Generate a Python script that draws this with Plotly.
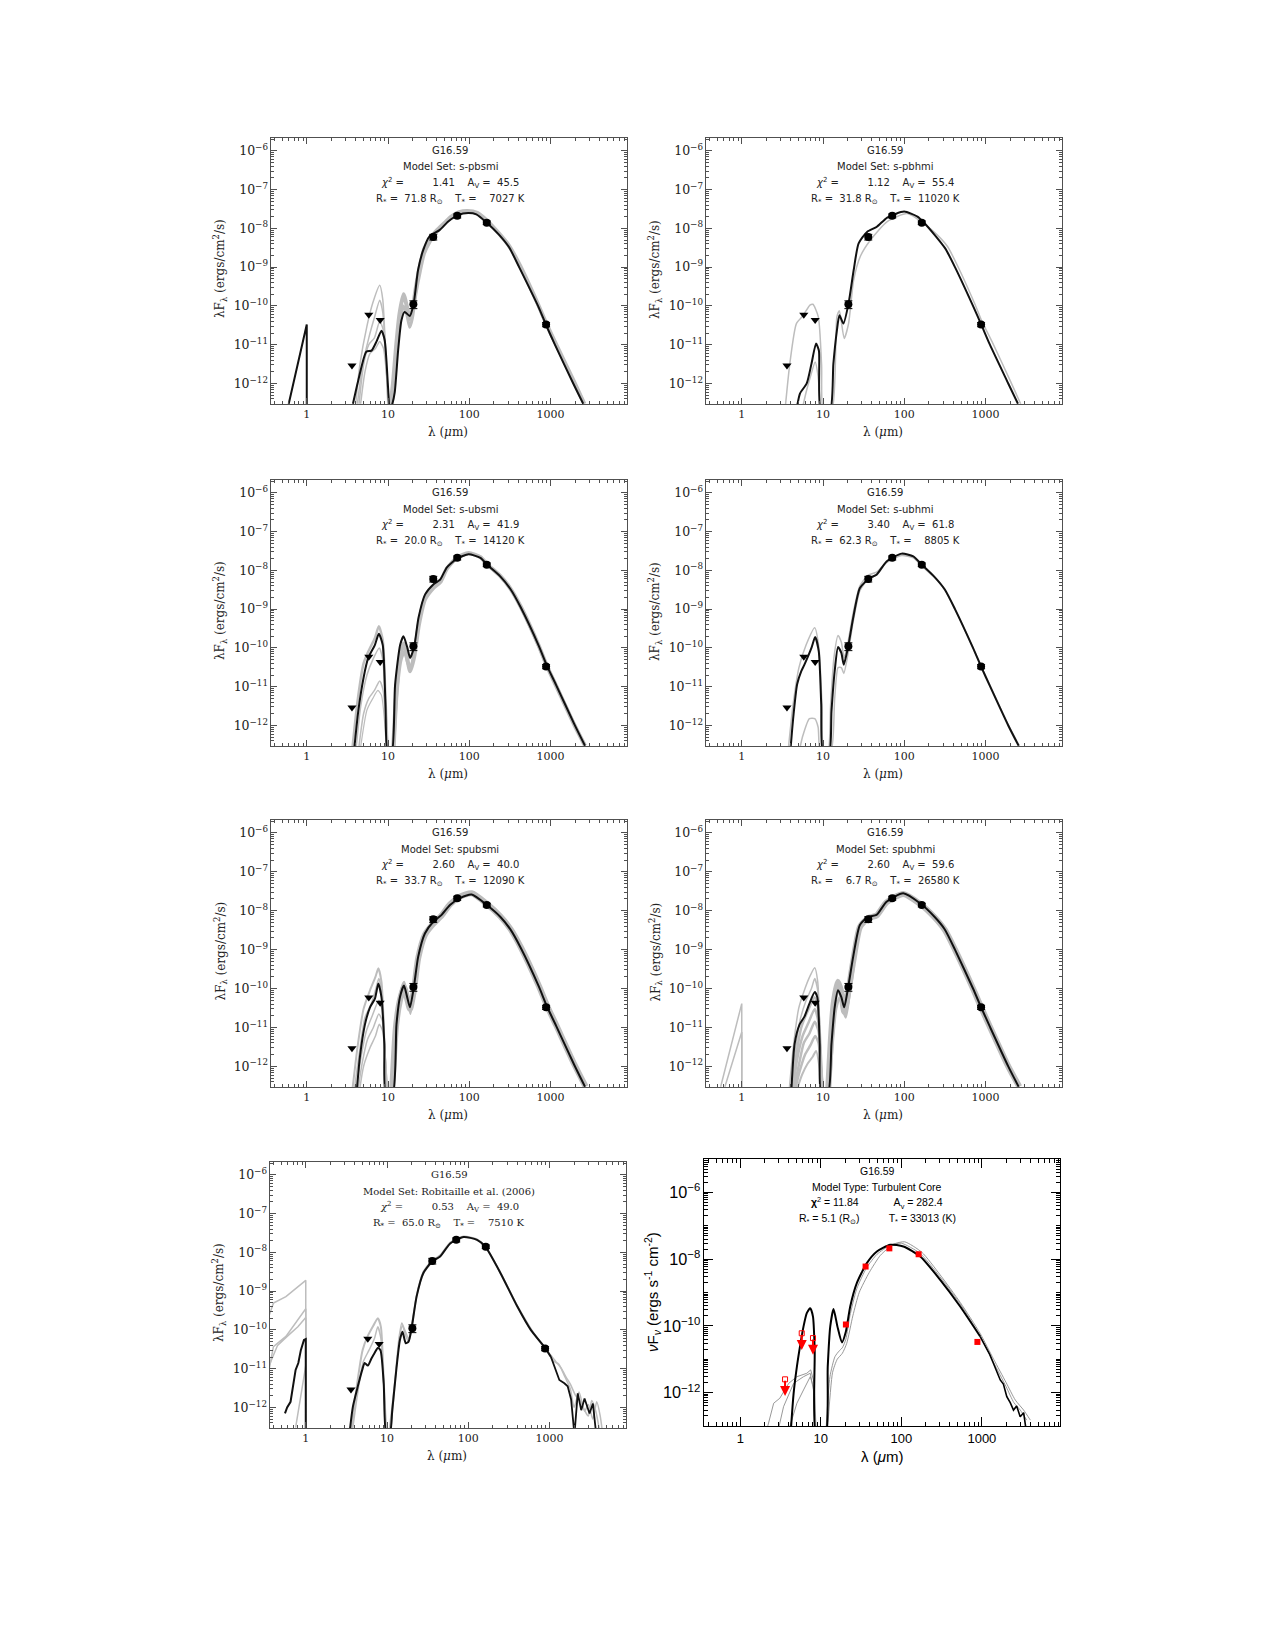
import plotly.graph_objects as go
import numpy as np

W, H = 1275, 1650
NB = "\u00a0"

# ---------------- observed photometry (shared) ----------------
wl_det = [20.5, 36.0, 71.0, 164.0, 880.0]
f_det = [1.1e-10, 6.0e-9, 2.1e-8, 1.4e-8, 3.3e-11]
e_det = [0.25e-10, 1.0e-9, 0.25e-8, 0.15e-8, 0.4e-11]
wl_lim = [3.6, 5.8, 8.0]
f_lim = [2.9e-12, 5.9e-11, 4.3e-11]
f_lim8 = [2.5e-12, 6.0e-11, 4.3e-11]

# ---------------- panel texts ----------------
model_sets = ["s-pbsmi", "s-pbhmi", "s-ubsmi", "s-ubhmi", "spubsmi", "spubhmi",
              "Robitaille et al. (2006)"]
chi2_vals = ["1.41", "1.12", "2.31", "3.40", "2.60", "2.60", "0.53"]
av_vals = ["45.5", "55.4", "41.9", "61.8", "40.0", "59.6", "49.0"]
rstar_vals = ["71.8", "31.8", "20.0", "62.3", "33.7", "6.7", "65.0"]
tstar_vals = ["7027", "11020", "14120", "8805", "12090", "26580", "7510"]

# ---------------- panel 1 : s-pbsmi ----------------
p1_nir_wl = [0.6, 1.0, 1.0]
p1_nir_f = [3e-13, 3.3e-11, 1e-13]
p1_wl = [3.7, 4.3, 5.4, 6.25, 7.2, 8.3, 9.1, 10.0, 10.5, 11.3, 12.1, 13.3, 14.6, 16.0, 18.5,
         20.6, 23.4, 27, 32.5, 43, 55, 72.5, 97, 122, 164, 230, 310, 410, 700, 876, 1130, 1900, 2520]
p1_f = [3e-13, 1.2e-12, 6.6e-12, 7e-12, 1.2e-11, 2.3e-11, 1.3e-11, 8e-13, 2e-13, 3e-13, 6e-13,
        7e-12, 4.2e-11, 7e-11, 5.5e-11, 1.1e-10, 8.4e-10, 2.7e-9, 6.3e-9, 9e-9, 1.5e-8, 2.2e-8,
        2.5e-8, 2.3e-8, 1.4e-8, 7e-9, 3.2e-9, 1e-9, 1e-10, 3.3e-11, 1e-11, 1e-12, 3e-13]
p1_ga_wl = [4.0, 4.5, 5.5, 6.5, 7.9, 8.6, 9.3, 10.0]
p1_ga_f = [3e-13, 3e-12, 3e-11, 1.2e-10, 3.4e-10, 1.5e-10, 8e-12, 2e-13]
p1_gb_wl = [4.2, 4.8, 5.8, 6.8, 7.9, 8.6, 9.4, 10.1]
p1_gb_f = [3e-13, 2.5e-12, 1.5e-11, 5e-11, 1.4e-10, 7e-11, 5e-12, 2e-13]
p1_gc_wl = [4.4, 5.0, 5.8, 6.8, 7.9, 8.7, 9.6, 10.3]
p1_gc_f = [3e-13, 3e-12, 1e-11, 1.5e-11, 4e-11, 2.5e-11, 2e-12, 2e-13]
p1_gd_wl = [4.6, 5.2, 6.0, 7.0, 7.9, 8.8, 9.8, 10.5]
p1_gd_f = [3e-13, 2e-12, 6e-12, 8e-12, 1.2e-11, 8e-12, 1e-12, 2e-13]
p1_ge_wl = [10.5, 11.5, 12.5, 13.8, 15.5, 17, 18.5, 20, 22, 25, 28, 33, 40, 50, 60, 75, 95,
            125, 164, 230, 310, 420, 700, 880, 1150, 1950, 2600]
p1_ge_f = [2e-13, 1e-12, 8e-12, 6e-11, 2e-10, 1e-10, 4.5e-11, 8e-11, 3e-10, 1.2e-9, 3e-9, 5.5e-9,
           9e-9, 1.4e-8, 2e-8, 2.6e-8, 2.8e-8, 2.5e-8, 1.6e-8, 7.5e-9, 3.5e-9, 1.1e-9, 1.1e-10,
           3.6e-11, 1.1e-11, 1.1e-12, 3e-13]
p1_gf_wl = [11, 12, 13.5, 15.5, 17, 18.5, 20, 22, 25, 28, 33, 40, 50, 60, 75, 95, 125, 164,
            230, 310, 420, 700, 880, 1150, 1950, 2600]
p1_gf_f = [2e-13, 2e-12, 2.5e-11, 1e-10, 6e-11, 2.8e-11, 5e-11, 2e-10, 8e-10, 2.2e-9, 4.5e-9,
           8e-9, 1.3e-8, 1.9e-8, 2.5e-8, 2.7e-8, 2.4e-8, 1.5e-8, 7.2e-9, 3.3e-9, 1.05e-9,
           1.05e-10, 3.4e-11, 1.05e-11, 1.05e-12, 3e-13]

# ---------------- panel 2 : s-pbhmi ----------------
p2_wl = [4.7, 5.2, 6.3, 7.2, 8.2, 8.9, 9.4, 12.2, 13.4, 14.8, 15.9, 17.8, 20.6, 23.8, 27.4,
         34.8, 46, 61.6, 99.5, 145, 175, 240, 320, 420, 700, 884, 1130, 1900, 2500]
p2_f = [2e-13, 5.5e-13, 1e-12, 3.2e-12, 1.07e-11, 7e-12, 2e-13, 2e-13, 3.2e-12, 2.3e-11, 5.7e-11,
        3.5e-11, 1.15e-10, 8.3e-10, 4.1e-9, 8.1e-9, 1.1e-8, 1.9e-8, 2.7e-8, 2e-8, 1.4e-8, 6.5e-9,
        3e-9, 1e-9, 1e-10, 3.3e-11, 1e-11, 1e-12, 3e-13]
p2_ga_wl = [3.4, 3.9, 4.7, 5.7, 6.9, 7.5, 8.75, 9.6, 10.1, 12.8, 14.8, 15.9, 18.2, 20.6, 23.8,
            28.8, 38.3, 61.6, 109, 175, 250, 340, 450, 740, 900, 1200, 2000, 2700]
p2_ga_f = [2e-13, 3.2e-12, 3.5e-11, 5.7e-11, 1.05e-10, 1.1e-10, 5.2e-11, 3e-12, 2e-13, 2e-13,
           5.2e-11, 7.5e-11, 1.45e-11, 3.5e-11, 4.6e-10, 1.9e-9, 5e-9, 1.5e-8, 2.4e-8, 1.3e-8,
           7e-9, 3.4e-9, 1.1e-9, 1.1e-10, 4e-11, 1.2e-11, 1.2e-12, 3e-13]
p2_gb_wl = [5.5, 6.2, 7.0, 8.0, 8.7, 9.3]
p2_gb_f = [2e-13, 6e-13, 1.5e-12, 3.6e-12, 1.5e-12, 2e-13]

# ---------------- panel 3 : s-ubsmi ----------------
p3_wl = [3.8, 4.3, 5.0, 5.7, 6.9, 7.7, 8.6, 9.3, 9.9, 11.1, 12.2, 14.1, 15.5, 17.3, 18.7, 21,
         23.7, 28.6, 36.3, 43.9, 53, 70.4, 98, 137, 165, 240, 320, 430, 720, 900, 1170, 1950, 2650]
p3_f = [2e-13, 2.3e-12, 1.7e-11, 5.5e-11, 1.2e-10, 2.3e-10, 1.2e-10, 3.5e-12, 2e-13, 2e-13,
        1.1e-11, 1.2e-10, 2e-10, 1e-10, 5.5e-11, 1.1e-10, 6e-10, 2.4e-9, 4.4e-9, 5.8e-9, 1.2e-8,
        2e-8, 2.6e-8, 2.1e-8, 1.4e-8, 7e-9, 3.3e-9, 1.1e-9, 1.1e-10, 3.5e-11, 1.1e-11, 1.1e-12, 3e-13]
p3_ga_wl = [3.6, 4.2, 5.0, 5.7, 6.9, 7.7, 8.6, 9.3, 9.9]
p3_ga_f = [2e-13, 4e-12, 4e-11, 8e-11, 1.8e-10, 3.6e-10, 1.6e-10, 5e-12, 2e-13]
p3_gb_wl = [4.0, 4.6, 5.5, 6.5, 7.8, 8.6, 9.4, 10.0]
p3_gb_f = [2e-13, 3e-12, 2e-11, 5e-11, 1e-10, 5e-11, 3e-12, 2e-13]
p3_gc_wl = [4.3, 5.0, 5.8, 6.8, 7.9, 8.7, 9.5, 10.1]
p3_gc_f = [2e-13, 2e-12, 5e-12, 8e-12, 1.4e-11, 8e-12, 1e-12, 2e-13]
p3_gd_wl = [4.5, 5.5, 6.5, 7.5, 8.3, 9.0, 9.6]
p3_gd_f = [2e-13, 2.5e-12, 5e-12, 8e-12, 6e-12, 1.5e-12, 2e-13]
p3_ge_wl = [11.5, 12.5, 14, 15.5, 17.3, 18.7, 21, 24, 28.6, 36, 44, 53, 70, 98, 137, 165, 240,
            320, 430, 720, 900, 1170, 1950, 2650]
p3_ge_f = [2e-13, 5e-12, 6e-11, 1.3e-10, 5e-11, 2.5e-11, 6e-11, 4e-10, 1.8e-9, 3.5e-9, 5e-9,
           1.1e-8, 2.1e-8, 2.8e-8, 2.2e-8, 1.45e-8, 7.2e-9, 3.4e-9, 1.15e-9, 1.1e-10, 3.4e-11,
           1.05e-11, 1.05e-12, 3e-13]
p3_gf_wl = [11.8, 13, 14.5, 16, 17.5, 19, 21, 24, 28.6, 36, 44, 53, 70, 98, 137, 165, 240, 320,
            430, 720, 900, 1170, 1950, 2650]
p3_gf_f = [2e-13, 8e-12, 5e-11, 8e-11, 4e-11, 3e-11, 8e-11, 5e-10, 2.2e-9, 4e-9, 5.5e-9, 1.15e-8,
           2e-8, 2.7e-8, 2.2e-8, 1.4e-8, 7e-9, 3.3e-9, 1.1e-9, 1.05e-10, 3.4e-11, 1.1e-11,
           1.1e-12, 3e-13]

# ---------------- panel 4 : s-ubhmi ----------------
p4_wl = [3.95, 4.26, 4.8, 5.4, 5.9, 7.2, 8.0, 8.85, 9.5, 10.0, 11.9, 12.7, 13.9, 15.3, 16.8, 18,
         20.4, 23.5, 28.4, 37.7, 45.5, 60.5, 92.7, 129, 164, 235, 315, 420, 700, 880, 1140, 1900, 2550]
p4_f = [2e-13, 1.3e-12, 1.15e-11, 2.5e-11, 3.7e-11, 1e-10, 1.9e-10, 8.3e-11, 3.5e-12, 2e-13,
        2e-13, 2.3e-12, 2.5e-11, 1.05e-10, 7.4e-11, 3.7e-11, 1.1e-10, 6e-10, 3.5e-9, 6.4e-9,
        7.7e-9, 1.7e-8, 2.7e-8, 2.3e-8, 1.4e-8, 6.8e-9, 3.2e-9, 1e-9, 1e-10, 3.3e-11, 1e-11,
        1e-12, 3e-13]
p4_ga_wl = [3.7, 4.26, 5.05, 6.2, 7.9, 8.9, 9.7, 10.2, 11.5, 12.4, 13.6, 15.3, 16.8, 18.2, 20.4,
            23.5, 28.4, 36, 45.5, 60.5, 92.7, 129, 164, 235, 315, 420, 700, 880, 1140, 1900, 2600]
p4_ga_f = [2e-13, 3.2e-12, 3.1e-11, 1.2e-10, 3.3e-10, 1e-10, 3.5e-12, 2e-13, 2e-13, 3.5e-12,
           5.5e-11, 2.1e-10, 1.4e-10, 5.5e-11, 1.5e-10, 8e-10, 4e-9, 7.5e-9, 9e-9, 1.6e-8, 2.4e-8,
           2.1e-8, 1.3e-8, 6.5e-9, 3.1e-9, 1e-9, 1e-10, 3.4e-11, 1.05e-11, 1.05e-12, 3e-13]
p4_gb_wl = [5.05, 5.65, 6.8, 7.9, 8.7, 9.3, 12.4, 13.9, 15.3, 16.8, 18, 20.4, 23.5, 28.4, 36,
            45.5, 60.5, 92.7, 129, 164]
p4_gb_f = [2e-13, 5.5e-13, 1.5e-12, 1.5e-12, 9e-13, 2e-13, 2e-13, 4.9e-12, 3.1e-11, 3.1e-11,
           2.2e-11, 7.4e-11, 4.8e-10, 3e-9, 6e-9, 7.5e-9, 1.6e-8, 2.6e-8, 2.2e-8, 1.35e-8]

# ---------------- panel 5 : spubsmi ----------------
p5_wl = [4.1, 4.5, 5.2, 6.0, 6.9, 7.6, 8.3, 9.0, 9.4, 11.4, 12.7, 14, 15.7, 17.2, 18.6, 20.8,
         23.5, 28.4, 36, 45.6, 57.8, 76.8, 107, 164, 240, 320, 430, 720, 900, 1170, 1950, 2650]
p5_f = [2e-13, 1.7e-12, 1.2e-11, 3.3e-11, 5.5e-11, 1.35e-10, 6e-11, 3.8e-12, 2e-13, 2e-13,
        1.2e-11, 6e-11, 1.2e-10, 6e-11, 3.3e-11, 1.1e-10, 6.6e-10, 2.6e-9, 5.2e-9, 7.8e-9,
        1.4e-8, 2.1e-8, 2.6e-8, 1.4e-8, 7e-9, 3.3e-9, 1.1e-9, 1.1e-10, 3.5e-11, 1.1e-11, 1.1e-12, 3e-13]
p5_ga_wl = [3.6, 4.2, 5.0, 6.0, 7.0, 7.6, 8.3, 9.0, 9.5]
p5_ga_f = [2e-13, 3e-12, 3e-11, 9e-11, 2e-10, 3.3e-10, 1.5e-10, 5e-12, 2e-13]
p5_gb_wl = [3.8, 4.4, 5.2, 6.2, 7.0, 7.7, 8.4, 9.1, 9.6]
p5_gb_f = [2e-13, 2e-12, 1.8e-11, 4e-11, 9e-11, 1.8e-10, 8e-11, 3e-12, 2e-13]
p5_gc_wl = [4.0, 4.6, 5.4, 6.4, 7.7, 8.4, 9.2, 9.7]
p5_gc_f = [2e-13, 1.5e-12, 8e-12, 2e-11, 5e-11, 3e-11, 2e-12, 2e-13]
p5_gd_wl = [4.2, 4.8, 5.6, 6.6, 7.7, 8.5, 9.3, 9.8]
p5_gd_f = [2e-13, 1.2e-12, 5e-12, 1e-11, 2.2e-11, 1.5e-11, 1.5e-12, 2e-13]
p5_ge_wl = [4.4, 5.0, 6.0, 7.0, 7.8, 8.6, 9.4, 9.9]
p5_ge_f = [2e-13, 1e-12, 3e-12, 6e-12, 1.2e-11, 8e-12, 1e-12, 2e-13]
p5_gf_wl = [11.2, 12.5, 14, 15.7, 17.2, 18.6, 20.8, 23.5, 28.4, 36, 45.6, 57.8, 76.8, 107, 164,
            240, 320, 430, 720, 900, 1170, 1950, 2700]
p5_gf_f = [2e-13, 1e-11, 5e-11, 1.1e-10, 5.5e-11, 3e-11, 9e-11, 6e-10, 2.4e-9, 4.6e-9, 7.5e-9,
           1.45e-8, 2.3e-8, 2.8e-8, 1.5e-8, 7.2e-9, 3.4e-9, 1.15e-9, 1.15e-10, 3.7e-11, 1.15e-11,
           1.15e-12, 3e-13]
p5_gg_wl = [11.6, 13, 14.5, 15.8, 17.3, 18.8, 21, 24, 28.4, 36]
p5_gg_f = [2e-13, 1.5e-11, 1e-10, 1.5e-10, 7e-11, 2.2e-11, 7e-11, 5e-10, 2.2e-9, 4.2e-9]

# ---------------- panel 6 : spubhmi ----------------
p6_wl = [4.06, 4.47, 5.15, 5.9, 6.8, 7.9, 8.5, 9.1, 9.5, 11.5, 12.7, 13.9, 15.3, 16.8, 18.2,
         20.4, 23.5, 28.4, 36, 45.5, 60.5, 97, 156, 235, 315, 420, 700, 880, 1140, 1900, 2550]
p6_f = [2e-13, 3.8e-12, 1.2e-11, 1.9e-11, 4.1e-11, 8.1e-11, 6e-11, 3.8e-12, 2e-13, 2e-13,
        3.8e-12, 3.3e-11, 9e-11, 6e-11, 3.3e-11, 1.1e-10, 6.6e-10, 4.3e-9, 7e-9, 7.8e-9, 1.7e-8,
        2.8e-8, 1.55e-8, 7e-9, 3.3e-9, 1e-9, 1e-10, 3.3e-11, 1e-11, 1e-12, 3e-13]
p6_n1_wl = [0.55, 1.0, 1.0]
p6_n1_f = [3e-13, 4.1e-11, 1e-13]
p6_n2_wl = [0.62, 1.0, 1.0]
p6_n2_f = [3e-13, 7.6e-12, 1e-13]
p6_ga_wl = [3.8, 4.3, 5.0, 6.0, 7.0, 7.9, 8.6, 9.2, 9.7]
p6_ga_f = [2e-13, 3e-12, 3e-11, 1e-10, 2.2e-10, 3.4e-10, 1.5e-10, 5e-12, 2e-13]
p6_gb_wl = [4.0, 4.5, 5.2, 6.2, 7.2, 7.9, 8.6, 9.3, 9.8]
p6_gb_f = [2e-13, 2e-12, 1.5e-11, 5e-11, 1e-10, 1.8e-10, 9e-11, 3e-12, 2e-13]
p6_gc_wl = [4.1, 4.7, 5.4, 6.4, 7.9, 8.7, 9.4, 9.9]
p6_gc_f = [2e-13, 2e-12, 1e-11, 2.5e-11, 6e-11, 3e-11, 2e-12, 2e-13]
p6_gd_wl = [4.2, 4.8, 5.6, 6.6, 7.9, 8.7, 9.4, 10]
p6_gd_f = [2e-13, 1.5e-12, 6e-12, 1.3e-11, 3e-11, 1.5e-11, 1e-12, 2e-13]
p6_ge_wl = [4.3, 5.0, 5.8, 6.8, 7.9, 8.8, 9.5, 10]
p6_ge_f = [2e-13, 1e-12, 4e-12, 7e-12, 1.4e-11, 8e-12, 8e-13, 2e-13]
p6_gf_wl = [4.4, 5.2, 6.0, 7.0, 8.0, 8.8, 9.5, 10.1]
p6_gf_f = [2e-13, 8e-13, 2e-12, 3.5e-12, 6e-12, 4e-12, 6e-13, 2e-13]
p6_gg_wl = [4.6, 5.5, 6.5, 7.5, 8.2, 9.0, 9.6]
p6_gg_f = [2e-13, 6e-13, 1.2e-12, 1.8e-12, 2.5e-12, 1e-12, 2e-13]
p6_gh_wl = [11.5, 12.5, 13.5, 15.2, 16.8, 18.2, 20.4, 23.5, 28.4, 36, 45.5, 60.5, 97, 156, 235,
            315, 420, 700, 880, 1140, 1900, 2600]
p6_gh_f = [2e-13, 5e-12, 4e-11, 1.5e-10, 8e-11, 2.5e-11, 8e-11, 5e-10, 3.8e-9, 6.5e-9, 7.5e-9,
           1.65e-8, 2.7e-8, 1.5e-8, 6.8e-9, 3.2e-9, 1e-9, 1e-10, 3.3e-11, 1e-11, 1e-12, 3e-13]
p6_gi_wl = [12, 13, 14.5, 16, 17.5, 19, 21, 24]
p6_gi_f = [2e-13, 3e-12, 3e-11, 6e-11, 3e-11, 1.8e-11, 6e-11, 4e-10]

# ---------------- panel 7 : Robitaille et al. (2006) ----------------
p7_nir_wl = [0.555, 0.59, 0.65, 0.7, 0.75, 0.81, 0.87, 0.95, 1.0, 1.0]
p7_nir_f = [7e-13, 1e-12, 1.4e-12, 4.2e-12, 9.3e-12, 1.4e-11, 3e-11, 5.5e-11, 5.8e-11, 1e-13]
p7_wl = [3.44, 3.8, 4.37, 4.95, 5.3, 5.8, 6.4, 7.0, 7.7, 8.3, 9.1, 9.8, 10.8, 11.6, 13.1, 14.4,
         15.5, 17, 18.4, 19.9, 23.1, 27.9, 35.5, 45, 59.8, 87.5, 128, 162, 249, 401, 587, 884, 1040]
p7_f = [2e-13, 1.05e-12, 3.5e-12, 9.3e-12, 1.4e-11, 1.2e-11, 1.8e-11, 2.5e-11, 3.4e-11, 3e-11,
        4.2e-12, 2e-13, 2e-13, 8.5e-13, 1.1e-11, 5.5e-11, 9e-11, 4.5e-11, 5e-11, 1e-10, 7.2e-10,
        2.9e-9, 5.7e-9, 7.8e-9, 1.7e-8, 2.5e-8, 2.1e-8, 1.4e-8, 2.9e-9, 4e-10, 1e-10, 3.4e-11, 2e-11]
p7_tail_wl = [1040, 1200, 1318, 1520, 1670, 1840, 2020, 2220, 2450, 2690, 3100, 3410, 3750]
p7_tail_f = [2e-11, 9.3e-12, 5.1e-12, 4.2e-12, 3.5e-12, 1.6e-12, 2e-13, 2.3e-12, 8.5e-13,
             1.7e-12, 7e-13, 1.26e-12, 2e-13]
p7_n1_wl = [0.35, 0.4, 0.57, 1.0, 1.0]
p7_n1_f = [2.2e-10, 4.9e-10, 7.2e-10, 1.9e-9, 1e-13]
p7_n2_wl = [0.35, 0.4, 0.57, 0.75, 1.0, 1.0]
p7_n2_f = [8.3e-12, 3.7e-11, 6.8e-11, 1.5e-10, 3.5e-10, 1e-13]
p7_n3_wl = [0.36, 0.45, 0.6, 0.8, 1.0, 1.0]
p7_n3_f = [1.3e-11, 4e-11, 7e-11, 1.2e-10, 2.1e-10, 1e-13]
p7_n4_wl = [0.75, 0.85, 1.0, 1.0]
p7_n4_f = [3e-13, 1.5e-12, 1.2e-11, 1e-13]
p7_ga_wl = [3.6, 4.2, 5.0, 5.8, 6.8, 7.7, 8.4, 9.1, 9.8]
p7_ga_f = [2e-13, 3e-12, 3e-11, 7e-11, 1.3e-10, 2e-10, 1.2e-10, 5e-12, 2e-13]
p7_gb_wl = [3.7, 4.3, 5.1, 6.0, 7.0, 7.7, 8.4, 9.1, 9.8]
p7_gb_f = [2e-13, 2e-12, 1.5e-11, 3e-11, 6e-11, 1.2e-10, 6e-11, 4e-12, 2e-13]
p7_gc_wl = [10.5, 11.5, 12.5, 14, 15.2, 16.5, 18.4, 19.9, 23.1, 27.9, 35.5, 45, 59.8, 87.5, 128,
            162, 249, 401, 587, 884, 1040, 1200, 1400, 1600, 1800, 2100, 2400, 2700, 3000, 3400,
            3800, 4200, 4500]
p7_gc_f = [2e-13, 1e-12, 5e-12, 6e-11, 1.5e-10, 1e-10, 6e-11, 1.2e-10, 8e-10, 3.2e-9, 6e-9,
           8.5e-9, 1.8e-8, 2.6e-8, 2.2e-8, 1.45e-8, 3e-9, 4.2e-10, 1.1e-10, 3.2e-11, 2.2e-11,
           1.5e-11, 1e-11, 6e-12, 4e-12, 2e-12, 1.5e-12, 8e-13, 1.2e-12, 5e-13, 1.4e-12, 6e-13, 2e-13]
p7_gd_wl = [11, 12, 13, 14.5, 15.5, 17, 18.4, 20, 23, 28, 36, 45, 60, 88, 128, 162, 249, 401,
            587, 884, 1100, 1300, 1500, 1800, 2000, 2300, 2600, 3000, 3300, 3700, 4200]
p7_gd_f = [2e-13, 1.5e-12, 1e-11, 8e-11, 1.3e-10, 7e-11, 5e-11, 1e-10, 7e-10, 2.8e-9, 5.6e-9,
           8e-9, 1.7e-8, 2.5e-8, 2.1e-8, 1.4e-8, 2.9e-9, 4e-10, 1e-10, 3.5e-11, 1.6e-11, 1.3e-11,
           7e-12, 3e-12, 1e-12, 2.5e-12, 1e-12, 6e-13, 1.5e-12, 8e-13, 2e-13]

# ---------------- panel 8 : Turbulent Core ----------------
p8_wl = [4.2, 4.6, 5.05, 5.6, 6.1, 6.7, 7.4, 8.0, 8.4, 8.8, 11.4, 12.2, 13.1, 14.4, 16.1, 18.3,
         20.5, 23.2, 28, 37.3, 49.7, 72.8, 106, 172, 304, 538, 953]
p8_f = [5e-14, 9.5e-13, 6e-12, 3e-11, 9.5e-11, 2.4e-10, 3.4e-10, 1.9e-10, 1.9e-11, 5e-14, 5e-14,
        6e-12, 9.5e-11, 3.2e-10, 9.5e-11, 3.2e-11, 6.8e-11, 3.8e-10, 1.9e-9, 7.6e-9, 1.7e-8,
        2.7e-8, 2.4e-8, 1.2e-8, 2.4e-9, 3.8e-10, 4.8e-11]
p8_tail_wl = [953, 1100, 1250, 1390, 1520, 1690, 1850, 2040, 2250, 2470, 2700, 2990, 3300, 3630]
p8_tail_f = [4.8e-11, 2.5e-11, 1.4e-11, 7.6e-12, 4.5e-12, 2.4e-12, 1.8e-12, 7.6e-13, 5e-13,
             3e-13, 4e-13, 1.9e-13, 2.5e-13, 5e-14]
p8_ga_wl = [2.04, 2.6, 3.1, 4.0, 5.05, 6.7, 7.5, 8.3, 8.8]
p8_ga_f = [5e-14, 4.8e-13, 6.8e-13, 1.9e-12, 3e-12, 3.8e-12, 4.8e-12, 1.9e-12, 5e-14]
p8_gb_wl = [2.85, 3.45, 4.6, 6.1, 7.4, 8.1, 8.6]
p8_gb_f = [5e-14, 3.8e-13, 1.9e-12, 3e-12, 3.8e-12, 1.2e-12, 5e-14]
p8_gc_wl = [3.8, 5.05, 6.1, 7.4, 8.1, 8.6]
p8_gc_f = [5e-14, 4.8e-13, 1.2e-12, 3e-12, 1.5e-12, 5e-14]
p8_gd_wl = [11.5, 13, 15, 17, 18.5, 20.5, 23, 28, 37, 50, 73, 100, 170, 300, 540, 950, 1400,
            2000, 2500, 3000, 3600]
p8_gd_f = [5e-14, 3e-12, 1.2e-11, 1.8e-11, 2.2e-11, 4e-11, 2e-10, 1.3e-9, 5.5e-9, 1.4e-8, 2.6e-8,
           3e-8, 1.5e-8, 3e-9, 4.5e-10, 5e-11, 8e-12, 1.5e-12, 5e-13, 3e-13, 1.5e-13]
p8_ge_wl = [12, 14, 16, 18.5, 21, 25, 30, 40, 55, 80, 110, 180, 300, 540, 950, 1400, 2000,
            2600, 3300, 4000]
p8_ge_f = [5e-14, 4e-12, 1e-11, 1.5e-11, 3e-11, 2e-10, 1e-9, 4e-9, 1.3e-8, 2.8e-8, 3.3e-8,
           1.6e-8, 3.5e-9, 5e-10, 6e-11, 1e-11, 2e-12, 6e-13, 3e-13, 1.5e-13]

# ---------------- layout geometry (pixels) ----------------
frames = [(271, 138, 627, 404), (706, 138, 1062, 404),
          (271, 480, 627, 746), (706, 480, 1062, 746),
          (271, 820, 627, 1087), (706, 820, 1062, 1087),
          (270, 1162, 626, 1428), (704, 1159, 1060, 1426)]

GRAY = "#bdbdbd"
BLACK = "#111111"

fig = go.Figure()


def axn(i):
    return ("x", "y") if i == 1 else (f"x{i}", f"y{i}")


def add_line(i, wl, f, color, width, shape="spline", smoothing=0.6):
    assert len(wl) == len(f)
    xa, ya = axn(i)
    line = dict(color=color, width=width, shape=shape)
    if shape == "spline":
        line["smoothing"] = smoothing
    fig.add_trace(go.Scatter(x=wl, y=f, mode="lines", line=line, xaxis=xa, yaxis=ya,
                             showlegend=False, hoverinfo="skip"))


grays = {
    1: [(p1_ga_wl, p1_ga_f, 1.5), (p1_gb_wl, p1_gb_f, 1.5), (p1_gc_wl, p1_gc_f, 1.5),
        (p1_gd_wl, p1_gd_f, 1.5), (p1_ge_wl, p1_ge_f, 4), (p1_gf_wl, p1_gf_f, 3)],
    2: [(p2_ga_wl, p2_ga_f, 1.5), (p2_gb_wl, p2_gb_f, 1.5)],
    3: [(p3_ga_wl, p3_ga_f, 2.5), (p3_gb_wl, p3_gb_f, 1.5), (p3_gc_wl, p3_gc_f, 1.5),
        (p3_gd_wl, p3_gd_f, 1.2), (p3_ge_wl, p3_ge_f, 4), (p3_gf_wl, p3_gf_f, 3)],
    4: [(p4_ga_wl, p4_ga_f, 1.5), (p4_gb_wl, p4_gb_f, 1.5)],
    5: [(p5_ga_wl, p5_ga_f, 2), (p5_gb_wl, p5_gb_f, 1.5), (p5_gc_wl, p5_gc_f, 1.5),
        (p5_gd_wl, p5_gd_f, 1.5), (p5_ge_wl, p5_ge_f, 1.5), (p5_gf_wl, p5_gf_f, 6),
        (p5_gg_wl, p5_gg_f, 2)],
    6: [(p6_ga_wl, p6_ga_f, 1.5), (p6_gb_wl, p6_gb_f, 1.5), (p6_gc_wl, p6_gc_f, 2.5),
        (p6_gd_wl, p6_gd_f, 2.5), (p6_ge_wl, p6_ge_f, 2.5), (p6_gf_wl, p6_gf_f, 2.5),
        (p6_gg_wl, p6_gg_f, 2), (p6_gh_wl, p6_gh_f, 6), (p6_gi_wl, p6_gi_f, 2.5)],
    7: [(p7_ga_wl, p7_ga_f, 2), (p7_gb_wl, p7_gb_f, 1.5), (p7_gc_wl, p7_gc_f, 1.5),
        (p7_gd_wl, p7_gd_f, 1.5)],
}
gray_linear = {
    6: [(p6_n1_wl, p6_n1_f), (p6_n2_wl, p6_n2_f)],
    7: [(p7_n1_wl, p7_n1_f), (p7_n2_wl, p7_n2_f), (p7_n3_wl, p7_n3_f), (p7_n4_wl, p7_n4_f)],
}
blacks = {1: (p1_wl, p1_f), 2: (p2_wl, p2_f), 3: (p3_wl, p3_f), 4: (p4_wl, p4_f),
          5: (p5_wl, p5_f), 6: (p6_wl, p6_f), 7: (p7_wl, p7_f)}

for i in range(1, 8):
    for (wl, f) in gray_linear.get(i, []):
        add_line(i, wl, f, GRAY, 1.5, shape="linear")
    for (wl, f, w) in grays[i]:
        add_line(i, wl, f, GRAY, w)
    bw, bf = blacks[i]
    add_line(i, bw, bf, BLACK, 2)

add_line(1, p1_nir_wl, p1_nir_f, BLACK, 2, shape="linear")
add_line(7, p7_nir_wl, p7_nir_f, BLACK, 2, shape="linear")
add_line(7, p7_tail_wl, p7_tail_f, BLACK, 1.8, shape="linear")

for i in range(1, 8):
    xa, ya = axn(i)
    fig.add_trace(go.Scatter(x=wl_lim, y=f_lim, mode="markers",
                             marker=dict(symbol="triangle-down", size=8, color="black"),
                             xaxis=xa, yaxis=ya, showlegend=False, hoverinfo="skip"))
    fig.add_trace(go.Scatter(x=wl_det, y=f_det, mode="markers",
                             marker=dict(symbol="circle", size=8, color="black"),
                             error_y=dict(type="data", array=e_det, color="black",
                                          thickness=1, width=4),
                             xaxis=xa, yaxis=ya, showlegend=False, hoverinfo="skip"))

G8 = "#8c8c8c"
for wl, f in [(p8_ga_wl, p8_ga_f), (p8_gb_wl, p8_gb_f), (p8_gc_wl, p8_gc_f)]:
    add_line(8, wl, f, G8, 0.9, shape="linear")
for wl, f in [(p8_gd_wl, p8_gd_f), (p8_ge_wl, p8_ge_f)]:
    add_line(8, wl, f, G8, 0.9)
add_line(8, p8_wl, p8_f, "black", 2)
add_line(8, p8_tail_wl, p8_tail_f, "black", 1.6, shape="linear")
fig.add_trace(go.Scatter(x=wl_det, y=f_det, mode="markers",
                         marker=dict(symbol="square", size=6, color="#ff0000"),
                         xaxis="x8", yaxis="y8", showlegend=False, hoverinfo="skip"))
fig.add_trace(go.Scatter(x=wl_lim, y=f_lim8, mode="markers",
                         marker=dict(symbol="square-open", size=5, color="#ff0000",
                                     line=dict(width=1)),
                         xaxis="x8", yaxis="y8", showlegend=False, hoverinfo="skip"))

annotations = []
ARROW_DEC = 0.5
for wl, f in zip(wl_lim, f_lim8):
    annotations.append(dict(x=np.log10(wl), y=np.log10(f) - ARROW_DEC, xref="x8", yref="y8",
                            ax=np.log10(wl), ay=np.log10(f), axref="x8", ayref="y8",
                            showarrow=True, arrowhead=2, arrowsize=1.0, arrowwidth=2,
                            arrowcolor="#ff0000", text=""))


def px(x):
    return x / W


def py(y):
    return 1 - y / H


layout = dict(width=W, height=H, margin=dict(l=0, r=0, t=0, b=0),
              paper_bgcolor="white", plot_bgcolor="white", showlegend=False)

for i, (l, t, r, b) in enumerate(frames, start=1):
    xk = "xaxis" if i == 1 else f"xaxis{i}"
    yk = "yaxis" if i == 1 else f"yaxis{i}"
    xa, ya = axn(i)
    if i < 8:
        lc = "#505050"
        tfy = dict(family="DejaVu Serif", size=10, color="#222")
        tfx = dict(family="DejaVu Serif", size=11, color="#222")
        xr = [-0.44, 3.94]
        yr = [-12.53, -5.67]
        ydt = 1
        tl, mtl, lw = 6, 3, 1
    else:
        lc = "black"
        tfy = dict(family="Liberation Sans", size=13, color="black")
        tfx = tfy
        xr = [-0.45, 3.97]
        yr = [-13, -5]
        ydt = 2
        tl, mtl, lw = 9, 4, 1.3
    layout[xk] = dict(type="log", range=xr, domain=[px(l), px(r)], anchor=ya,
                      showline=True, linecolor=lc, linewidth=lw, mirror="allticks",
                      ticks="inside", ticklen=tl, tickcolor=lc, dtick=1,
                      exponentformat="none", tickfont=tfx, showgrid=False, zeroline=False,
                      minor=dict(ticks="inside", ticklen=mtl, tickcolor=lc, dtick="D1",
                                 showgrid=False))
    layout[yk] = dict(type="log", range=yr, domain=[py(b), py(t)], anchor=xa,
                      showline=True, linecolor=lc, linewidth=lw, mirror="allticks",
                      ticks="inside", ticklen=tl, tickcolor=lc, dtick=ydt,
                      exponentformat="power", showexponent="all", tickfont=tfy,
                      showgrid=False, zeroline=False,
                      minor=dict(ticks="inside", ticklen=mtl, tickcolor=lc, dtick="D1",
                                 showgrid=False))

    if i < 8:
        cx = (l + r) / 2 + 1
        tfam = "DejaVu Serif" if i == 7 else "DejaVu Sans"
        afont = dict(family=tfam, size=10, color="#222")
        rpad = NB * (2 * (4 - len(rstar_vals[i - 1])))
        tpad = NB * (2 * (5 - len(tstar_vals[i - 1])))
        lines = [
            "G16.59",
            f"Model Set: {model_sets[i - 1]}",
            f"<i>χ</i><sup>2</sup> ={NB * 9}{chi2_vals[i - 1]}{NB * 4}A<sub>V</sub> = {NB}{av_vals[i - 1]}",
            f"R<sub>*</sub> = {NB}{rpad}{rstar_vals[i - 1]} R<sub>⊙</sub>{NB * 4}T<sub>*</sub> = {NB}{tpad}{tstar_vals[i - 1]} K",
        ]
        offs = [12.7, 29.0, 45.0, 61.0]
        for txt, o in zip(lines, offs):
            annotations.append(dict(x=px(cx), y=py(t + o), xref="paper", yref="paper",
                                    text=txt, showarrow=False, font=afont,
                                    xanchor="center", yanchor="middle"))
        annotations.append(dict(x=px(cx - 2), y=py(b + 28), xref="paper", yref="paper",
                                text="λ (<i>μ</i>m)", showarrow=False,
                                font=dict(family="DejaVu Serif", size=12, color="#222"),
                                xanchor="center", yanchor="middle"))
        annotations.append(dict(x=px(l - 51), y=py((t + b) / 2 - 2), xref="paper", yref="paper",
                                text="λF<sub>λ</sub> (ergs/cm<sup>2</sup>/s)", showarrow=False,
                                textangle=-90,
                                font=dict(family="DejaVu Serif", size=12, color="#222"),
                                xanchor="center", yanchor="middle"))
    else:
        cx = 877
        afont = dict(family="Liberation Sans", size=10.5, color="black")
        lines = [
            "G16.59",
            "Model Type: Turbulent Core",
            f"<b>χ</b><sup>2</sup> = 11.84{NB * 12}A<sub>v</sub> = 282.4",
            f"R<sub>*</sub> = 5.1 (R<sub>⊙</sub>){NB * 10}T<sub>*</sub> = 33013 (K)",
        ]
        offs = [12.0, 28.3, 44.3, 60.3]
        for txt, o in zip(lines, offs):
            annotations.append(dict(x=px(cx), y=py(t + o), xref="paper", yref="paper",
                                    text=txt, showarrow=False, font=afont,
                                    xanchor="center", yanchor="middle"))
        annotations.append(dict(x=px(882), y=py(1456), xref="paper", yref="paper",
                                text="λ (<i>μ</i>m)", showarrow=False,
                                font=dict(family="Liberation Sans", size=15, color="black"),
                                xanchor="center", yanchor="middle"))
        annotations.append(dict(x=px(652), y=py(1292), xref="paper", yref="paper",
                                text="<i>ν</i>F<sub><i>ν</i></sub> (ergs s<sup>-1</sup> cm<sup>-2</sup>)",
                                showarrow=False, textangle=-90,
                                font=dict(family="Liberation Sans", size=15, color="black"),
                                xanchor="center", yanchor="middle"))

layout["annotations"] = annotations
fig.update_layout(**layout)
fig.write_html("out.html")
